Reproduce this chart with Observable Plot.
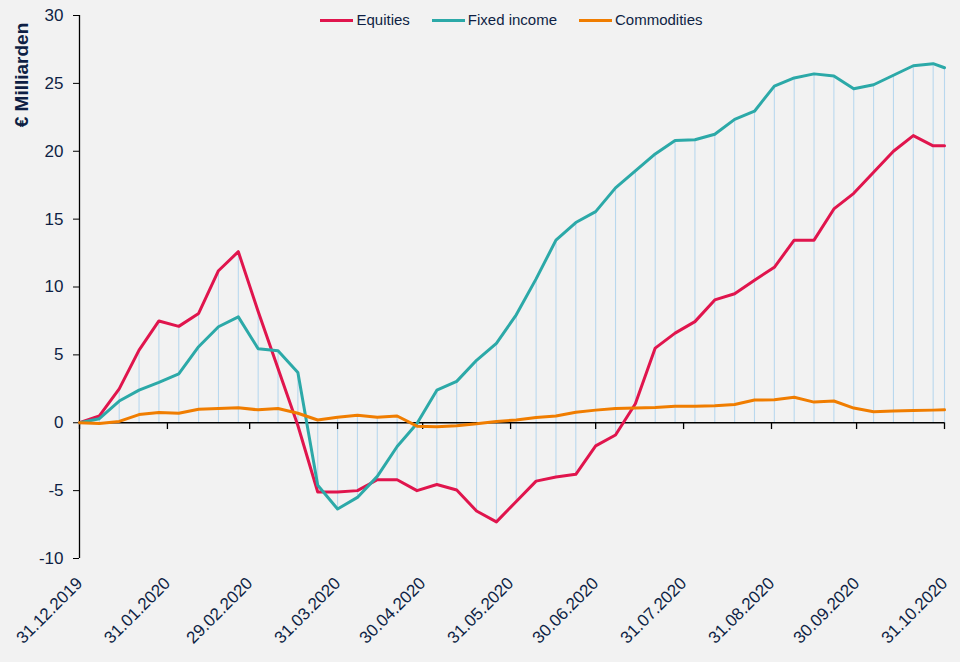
<!DOCTYPE html>
<html><head><meta charset="utf-8">
<script src="https://cdn.jsdelivr.net/npm/d3@7"></script>
<script src="https://cdn.jsdelivr.net/npm/@observablehq/plot@0.6"></script>
<style>
body{margin:0;background:#f2f2f2;font-family:"Liberation Sans",Arial,sans-serif;}
#wrap{position:relative;width:960px;height:662px;overflow:hidden;}
#legend{position:absolute;left:79px;width:865px;top:11px;display:flex;justify-content:center;gap:22px;font-size:15px;color:#0e1f44;line-height:18px;}
.item{display:flex;align-items:center;}
.sw{width:33px;height:3px;margin-right:3px;}
#ylab{position:absolute;left:22px;top:74.5px;transform:translate(-50%,-50%) rotate(-90deg);font-weight:bold;font-size:19px;color:#0e1f44;white-space:nowrap;}
</style></head>
<body><div id="wrap"><div id="chart"></div><div id="legend"></div><div id="ylab">€ Milliarden</div></div>
<script>
const dates = ["2019-12-31","2020-01-07","2020-01-14","2020-01-21","2020-01-28","2020-02-04","2020-02-11","2020-02-18","2020-02-25",
"2020-03-03","2020-03-10","2020-03-17","2020-03-24","2020-03-31","2020-04-07","2020-04-14","2020-04-21","2020-04-28",
"2020-05-05","2020-05-12","2020-05-19","2020-05-26","2020-06-02","2020-06-09","2020-06-16","2020-06-23","2020-06-30",
"2020-07-07","2020-07-14","2020-07-21","2020-07-28","2020-08-04","2020-08-11","2020-08-18","2020-08-25",
"2020-09-01","2020-09-08","2020-09-15","2020-09-22","2020-09-29","2020-10-06","2020-10-13","2020-10-20","2020-10-27","2020-10-31"];
const equities = [0,0.5,2.5,5.35,7.5,7.1,8.05,11.2,12.6,
8.2,4.0,-0.2,-5.1,-5.1,-5.0,-4.2,-4.2,-5.0,
-4.55,-4.95,-6.5,-7.3,-5.8,-4.3,-4.0,-3.8,-1.7,
-0.9,1.4,5.5,6.6,7.45,9.05,9.5,10.5,
11.45,13.45,13.45,15.75,16.9,18.45,20.0,21.15,20.4,20.4];
const fixedIncome = [0,0.3,1.6,2.4,2.97,3.6,5.6,7.07,7.8,
5.45,5.3,3.7,-4.6,-6.35,-5.5,-3.95,-1.75,-0.05,
2.4,3.05,4.6,5.85,7.95,10.6,13.45,14.75,15.55,
17.3,18.55,19.8,20.8,20.85,21.25,22.35,22.95,
24.8,25.4,25.7,25.55,24.6,24.9,25.6,26.3,26.45,26.15];
const commodities = [0,-0.05,0.1,0.6,0.75,0.7,1.0,1.05,1.1,
0.95,1.05,0.7,0.2,0.4,0.55,0.4,0.5,-0.25,
-0.3,-0.22,-0.08,0.1,0.2,0.38,0.5,0.77,0.93,
1.05,1.08,1.13,1.22,1.22,1.25,1.35,1.67,
1.7,1.88,1.52,1.6,1.08,0.81,0.86,0.9,0.93,0.95];
const seriesNames = ["Equities","Fixed income","Commodities"];
const seriesColors = ["#e0154d","#2ca9a8","#f07d00"];
const xTickDates = ["2019-12-31","2020-01-31","2020-02-29","2020-03-31","2020-04-30","2020-05-31","2020-06-30","2020-07-31","2020-08-31","2020-09-30","2020-10-31"];
const yTicks = [-10,-5,0,5,10,15,20,25,30];

const parse = d3.utcParse("%Y-%m-%d");
const seriesValues = [equities, fixedIncome, commodities];
const rows = dates.map((d,i)=>({date: parse(d), e: equities[i], f: fixedIncome[i], c: commodities[i]}));
const long = [];
seriesNames.forEach((s,j)=> dates.forEach((d,i)=> long.push({date: parse(d), series: s, value: seriesValues[j][i]})));
const ticks = xTickDates.map(parse);
const fmt = d3.utcFormat("%d.%m.%Y");

const chart = Plot.plot({
  width:960, height:662, marginLeft:79, marginRight:16, marginTop:15, marginBottom:104,
  style:{background:"transparent", fontFamily:"Liberation Sans, Arial, sans-serif", color:"#0e1f44", overflow:"visible"},
  x:{type:"utc", domain:[ticks[0], ticks[ticks.length-1]]},
  y:{domain:[-10,30]},
  color:{domain:seriesNames, range:seriesColors},
  marks:[
    Plot.ruleX(rows,{x:"date", y1:d=>Math.min(0,d.e,d.f,d.c), y2:d=>Math.max(0,d.e,d.f,d.c), stroke:"#b9d8ee", strokeWidth:1.1}),
    Plot.ruleY([0],{stroke:"#000", strokeWidth:1.3}),
    Plot.ruleX(ticks,{x:d=>d, y1:0, y2:-0.5, stroke:"#000", strokeWidth:1.3}),
    Plot.ruleX([ticks[0]],{y1:-10, y2:30, stroke:"#000", strokeWidth:1.3}),
    Plot.axisY({ticks:yTicks, tickFormat:d=>String(d), tickSize:6, tickPadding:10, fontSize:17, stroke:"#000", fill:"#0e1f44", label:null}),
    Plot.axisX({ticks, tickFormat:fmt, tickSize:0, tickPadding:22, tickRotate:-45, fontSize:17, fill:"#0e1f44", label:null}),
    Plot.lineY(long,{x:"date", y:"value", stroke:"series", strokeWidth:3, strokeLinejoin:"round"})
  ]
});
document.getElementById("chart").appendChild(chart);

const leg = document.getElementById("legend");
seriesNames.forEach((s,i)=>{
  const it = document.createElement("div"); it.className="item";
  const sw = document.createElement("span"); sw.className="sw"; sw.style.background = seriesColors[i];
  const tx = document.createElement("span"); tx.textContent = s;
  it.appendChild(sw); it.appendChild(tx); leg.appendChild(it);
});
</script></body></html>
